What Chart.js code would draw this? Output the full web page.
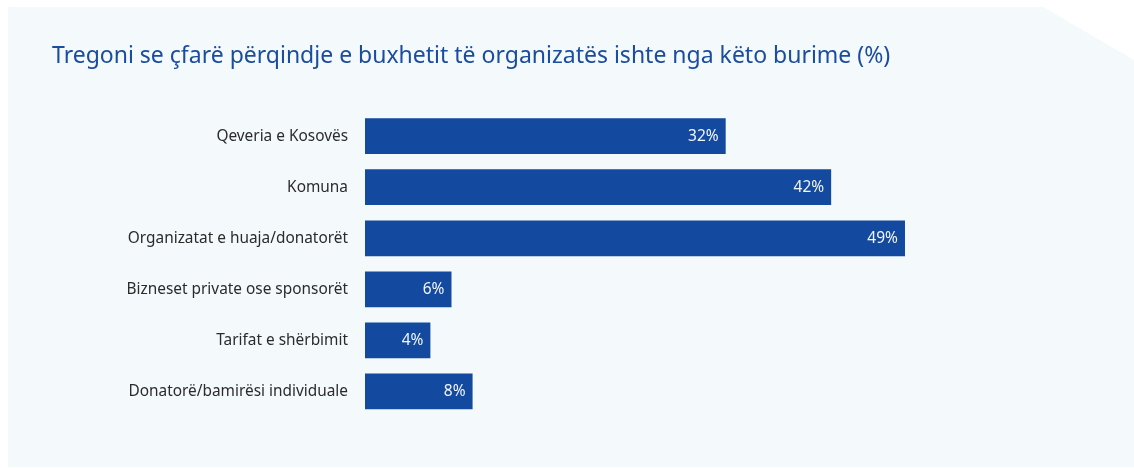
<!DOCTYPE html>
<html>
<head>
<meta charset="utf-8">
<script src="https://cdn.jsdelivr.net/npm/chart.js@4"></script>
<style>
  body { margin: 0; background: #fff; }
  .panel {
    position: absolute; left: 8px; top: 7px; width: 1126px; height: 460px;
    background: #f4f9fc;
    clip-path: polygon(0 0, 1035px 0, 100% 53px, 100% 100%, 0 100%);
  }
</style>
</head>
<body>
<div class="panel"><canvas id="budget_chart" width="1126" height="460"></canvas></div>
<script>
var categories = [
  "Qeveria e Kosovës",
  "Komuna",
  "Organizatat e huaja/donatorët",
  "Bizneset private ose sponsorët",
  "Tarifat e shërbimit",
  "Donatorë/bamirësi individuale"
];
var shares = [32, 42, 49, 6, 4, 8];
var axisMin = -2.2;

// white % labels at the end of each bar
var barLabels = {
  id: "barLabels",
  afterDatasetsDraw: function(chart) {
    var ctx = chart.ctx;
    var meta = chart.getDatasetMeta(0);
    ctx.save();
    ctx.font = "15.5px 'Noto Sans'";
    ctx.fillStyle = "#f2f5fa";
    ctx.textAlign = "right";
    ctx.textBaseline = "middle";
    meta.data.forEach(function(bar, i) {
      ctx.fillText(shares[i] + "%", bar.x - 7, bar.y);
    });
    ctx.restore();
  }
};

new Chart("budget_chart", {
  type: "bar",
  data: {
    labels: categories,
    datasets: [{
      data: shares,
      base: axisMin,
      backgroundColor: "#134a9f",
      categoryPercentage: 1,
      barPercentage: 0.7
    }]
  },
  options: {
    indexAxis: "y",
    responsive: false,
    animation: false,
    layout: { padding: { left: 44, top: 36, right: 113, bottom: 50 } },
    plugins: {
      legend: { display: false },
      tooltip: { enabled: false },
      title: {
        display: true,
        align: "start",
        text: "Tregoni se çfarë përqindje e buxhetit të organizatës ishte nga këto burime (%)",
        color: "#1a4ca0",
        font: { family: "'Noto Sans'", size: 23, weight: "normal" },
        padding: { top: 0, bottom: 40 }
      }
    },
    scales: {
      x: { display: false, min: axisMin, max: 60 },
      y: {
        grid: { display: false, drawTicks: false },
        border: { display: false },
        ticks: { color: "#2b2b2b", padding: 17, font: { family: "'Noto Sans'", size: 15.4 } },
        afterFit: function(axis) { axis.width = 313; }
      }
    }
  },
  plugins: [barLabels]
});
</script>
</body>
</html>
